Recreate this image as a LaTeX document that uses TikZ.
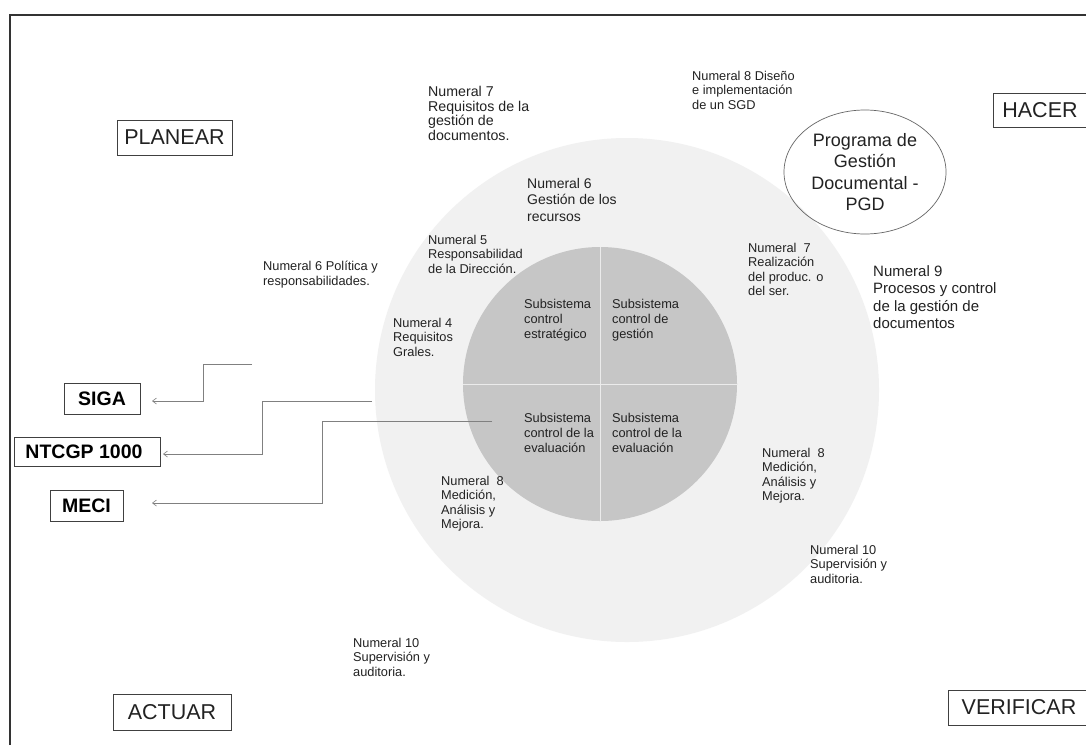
\documentclass[tikz,border=0pt]{standalone}
\usepackage{fontspec}
\setmainfont{Liberation Sans}
\usetikzlibrary{shapes.geometric,arrows.meta}
\definecolor{outerfill}{HTML}{F1F1F1}
\definecolor{innerfill}{HTML}{C6C6C6}
\definecolor{inktext}{HTML}{222222}
\tikzset{
  txt/.style={anchor=north west, align=left, inner sep=0pt, text=inktext,
    font=\fontsize{12.8}{14.5}\selectfont},
  bigtxt/.style={txt, font=\fontsize{14.2}{14.6}\selectfont},
  widetxt/.style={txt, font=\fontsize{15}{17.5}\selectfont},
  sub/.style={txt, font=\fontsize{12.8}{15}\selectfont},
  phase/.style={draw=black!75, line width=0.8pt, inner sep=0pt, text=inktext,
    font=\fontsize{21.5}{24}\selectfont, minimum height=35pt},
  tagbox/.style={draw=black!75, line width=0.8pt, inner sep=0pt, text=black,
    font=\bfseries\fontsize{19.5}{22}\selectfont, minimum height=31pt},
  conn/.style={draw=black!50, line width=0.6pt, -{Straight Barb[length=4pt,width=6pt]}},
}
\begin{document}
\begin{tikzpicture}[x=1pt,y=-1pt]
\useasboundingbox (0,0) rectangle (1086,745);
\fill[white] (0,0) rectangle (1086,745);
% frame
\draw[line width=1.3pt, black!80] (10,745) -- (10,15) -- (1086,15);
% circles
\fill[outerfill] (627,390) circle[radius=252];
\fill[innerfill] (600,384) circle[radius=137];
\draw[white!92!black, line width=1pt] (600,247) -- (600,521);
\draw[white!92!black, line width=1pt] (463,384) -- (737,384);
% phase boxes
\node[phase, minimum width=115pt] (planear) at (174.5,137.5) {PLANEAR};
\node[phase, minimum width=98pt, minimum height=34pt] (hacer) at (1042,110) {\hspace*{-4pt}HACER};
\node[phase, minimum width=118pt, minimum height=36pt] (actuar) at (172,712) {ACTUAR};
\node[phase, minimum width=146pt] (verificar) at (1021,707.5) {\hspace*{-4pt}VERIFICAR};
% PGD ellipse
\node[ellipse, draw=black!60, line width=0.7pt, minimum width=162pt, minimum height=124pt,
  align=center, inner sep=0pt, text=inktext, font=\fontsize{18}{21.5}\selectfont]
  (pgd) at (865,172) {Programa de\\Gesti\'on\\Documental -\\PGD};
% tags
\node[tagbox, minimum width=76pt] (siga) at (102,398.5) {SIGA};
\node[tagbox, minimum width=146pt, minimum height=29pt] (ntcgp) at (87,451.5) {NTCGP 1000\hspace*{6pt}};
\node[tagbox, minimum width=73pt] (meci) at (86.5,505.5) {MECI};
% connectors
\coordinate (s1) at (252,364);
\coordinate (s1a) at (203,364);
\coordinate (t1) at (152,401);
\coordinate (s2) at (372,401);
\coordinate (s2a) at (262,401);
\coordinate (t2) at (163,454);
\coordinate (s3) at (492,421);
\coordinate (s3a) at (322,421);
\coordinate (t3) at (152,503);
\draw[conn] (s1) -- (s1a) |- (t1);
\draw[conn] (s2) -- (s2a) |- (t2);
\draw[conn] (s3) -- (s3a) |- (t3);
% text blocks
\node[bigtxt] (n7a) at (428,86) {Numeral 7\\Requisitos de la\\gesti\'on de\\documentos.};
\node[txt] (n8a) at (692,71) {Numeral 8 Dise\~no\\e implementaci\'on\\de un SGD};
\node[bigtxt, font=\fontsize{14}{16.5}\selectfont] (n6a) at (527,178) {Numeral 6\\Gesti\'on de los\\recursos};
\node[txt] (n5) at (428,235) {Numeral 5\\Responsabilidad\\de la Direcci\'on.};
\node[txt] (n6b) at (263,261) {Numeral 6 Pol\'itica y\\responsabilidades.};
\node[txt] (n4) at (393,318) {Numeral 4\\Requisitos\\Grales.};
\node[sub] (q1) at (524,299) {Subsistema\\control\\estrat\'egico};
\node[sub] (q2) at (612,299) {Subsistema\\control de\\gesti\'on};
\node[sub] (q3) at (524,413) {Subsistema\\control de la\\evaluaci\'on};
\node[sub] (q4) at (612,413) {Subsistema\\control de la\\evaluaci\'on};
\node[txt] (n7b) at (748,243) {Numeral \ 7\\Realizaci\'on\\del produc. o\\del ser.};
\node[widetxt] (n9) at (873,265) {Numeral 9\\Procesos y control\\de la gesti\'on de\\documentos};
\node[txt] (n8b) at (762,448) {Numeral \ 8\\Medici\'on,\\An\'alisis y\\Mejora.};
\node[txt] (n8c) at (441,476) {Numeral \ 8\\Medici\'on,\\An\'alisis y\\Mejora.};
\node[txt] (n10a) at (353,638) {Numeral 10\\Supervisi\'on y\\auditoria.};
\node[txt] (n10b) at (810,545) {Numeral 10\\Supervisi\'on y\\auditoria.};
\end{tikzpicture}
\end{document}
